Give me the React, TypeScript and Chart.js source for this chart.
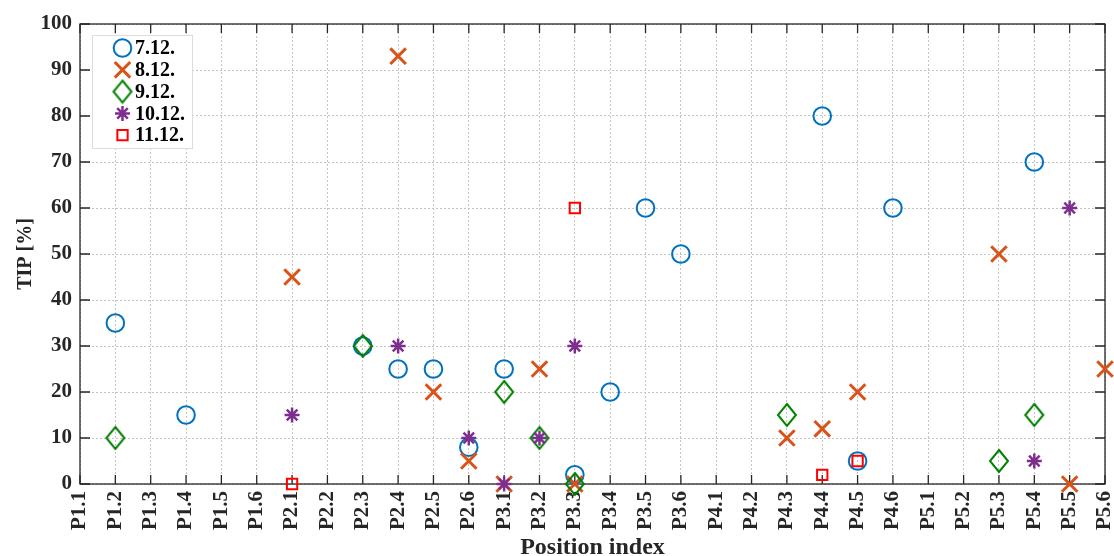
import { useEffect, useRef } from 'react';
import { Chart, registerables } from 'chart.js';

Chart.register(...registerables);

// Measurement positions along the x axis
const positions = [
  'P1.1', 'P1.2', 'P1.3', 'P1.4', 'P1.5', 'P1.6',
  'P2.1', 'P2.2', 'P2.3', 'P2.4', 'P2.5', 'P2.6',
  'P3.1', 'P3.2', 'P3.3', 'P3.4', 'P3.5', 'P3.6',
  'P4.1', 'P4.2', 'P4.3', 'P4.4', 'P4.5', 'P4.6',
  'P5.1', 'P5.2', 'P5.3', 'P5.4', 'P5.5', 'P5.6',
];

// TIP [%] per position and day (null = not measured)
const tip0712 = [null, 35, null, 15, null, null, null, null, 30, 25, 25, 8, 25, null, 2, 20, 60, 50, null, null, null, 80, 5, 60, null, null, null, 70, null, null];
const tip0812 = [null, null, null, null, null, null, 45, null, null, 93, 20, 5, 0, 25, 0, null, null, null, null, null, 10, 12, 20, null, null, null, 50, null, 0, 25];
const tip0912 = [null, 10, null, null, null, null, null, null, 30, null, null, null, 20, 10, 0, null, null, null, null, null, 15, null, null, null, null, null, 5, 15, null, null];
const tip1012 = [null, null, null, null, null, null, 15, null, null, 30, null, 10, 0, 10, 30, null, null, null, null, null, null, null, null, null, null, null, null, 5, 60, null];
const tip1112 = [null, null, null, null, null, null, 0, null, null, null, null, null, null, null, 60, null, null, null, null, null, null, 2, 5, null, null, null, null, null, null, null];

const dayLabels = ['7.12.', '8.12.', '9.12.', '10.12.', '11.12.'];
const yTicks = [0, 10, 20, 30, 40, 50, 60, 70, 80, 90, 100];

const AXIS_COLOR = '#262626';
const FONT_FAMILY = '"Liberation Serif", "Times New Roman", serif';
const COLORS = ['#0072BD', '#D95319', '#008000', '#7E2F8E', '#FF0000'];
const RIGHT_MARGIN = 9;

// Tall diamond marker rendered once to an offscreen canvas
function makeDiamond(color: string): HTMLCanvasElement {
  const hw = 9;
  const hh = 11;
  const c = document.createElement('canvas');
  c.width = hw * 2 + 4;
  c.height = hh * 2 + 4;
  const g = c.getContext('2d')!;
  const cx = c.width / 2;
  const cy = c.height / 2;
  g.strokeStyle = color;
  g.lineWidth = 2;
  g.beginPath();
  g.moveTo(cx, cy - hh);
  g.lineTo(cx + hw, cy);
  g.lineTo(cx, cy + hh);
  g.lineTo(cx - hw, cy);
  g.closePath();
  g.stroke();
  return c;
}

type MarkerKind = 'circle' | 'crossRot' | 'diamond' | 'star' | 'rect';
const markerKinds: MarkerKind[] = ['circle', 'crossRot', 'diamond', 'star', 'rect'];
const markerRadius = [8.8, 11, 0, 7.5, 7.3];
const markerWidth = [2, 3, 2, 2.5, 2];

function drawLegendMarker(ctx: CanvasRenderingContext2D, i: number, x: number, y: number, diamond: HTMLCanvasElement) {
  const kind = markerKinds[i];
  const r = markerRadius[i];
  ctx.save();
  ctx.strokeStyle = COLORS[i];
  ctx.lineWidth = markerWidth[i];
  ctx.beginPath();
  if (kind === 'circle') {
    ctx.arc(x, y, r, 0, Math.PI * 2);
  } else if (kind === 'crossRot') {
    const d = r * Math.SQRT1_2;
    ctx.moveTo(x - d, y - d); ctx.lineTo(x + d, y + d);
    ctx.moveTo(x - d, y + d); ctx.lineTo(x + d, y - d);
  } else if (kind === 'star') {
    const d = r * Math.SQRT1_2;
    ctx.moveTo(x - r, y); ctx.lineTo(x + r, y);
    ctx.moveTo(x, y - r); ctx.lineTo(x, y + r);
    ctx.moveTo(x - d, y - d); ctx.lineTo(x + d, y + d);
    ctx.moveTo(x - d, y + d); ctx.lineTo(x + d, y - d);
  } else if (kind === 'rect') {
    const s = r * Math.SQRT1_2;
    ctx.rect(x - s, y - s, 2 * s, 2 * s);
  } else {
    ctx.drawImage(diamond, x - diamond.width / 2, y - diamond.height / 2);
  }
  ctx.stroke();
  ctx.restore();
}

export default function App() {
  const canvasRef = useRef<HTMLCanvasElement | null>(null);

  useEffect(() => {
    const canvas = canvasRef.current;
    if (!canvas) return;
    const diamond = makeDiamond(COLORS[2]);
    const series = [tip0712, tip0812, tip0912, tip1012, tip1112];

    // Let the plot area reach close to the right edge (the last rotated
    // tick label would otherwise reserve extra room there)
    const plotAreaPlugin = {
      id: 'plotArea',
      afterLayout(chart: any) {
        const area = chart.chartArea;
        const xScale = chart.scales.x;
        const right = chart.width - RIGHT_MARGIN;
        area.right = right;
        area.width = right - area.left;
        xScale.right = right;
        xScale.width = right - xScale.left;
        xScale.configure();
        xScale._gridLineItems = null;
        xScale._labelItems = null;
      },
    };

    // Box with inward ticks on all four sides
    const framePlugin = {
      id: 'frame',
      beforeDatasetsDraw(chart: any) {
        const { ctx, chartArea, scales } = chart;
        const { left, right, top, bottom } = chartArea;
        ctx.save();
        ctx.setLineDash([]);
        ctx.strokeStyle = AXIS_COLOR;
        ctx.lineWidth = 1.3;
        ctx.beginPath();
        positions.forEach((_, i) => {
          const x = scales.x.getPixelForValue(i);
          ctx.moveTo(x, bottom); ctx.lineTo(x, bottom - 9);
          ctx.moveTo(x, top); ctx.lineTo(x, top + 9);
        });
        yTicks.forEach((v) => {
          const y = scales.y.getPixelForValue(v);
          ctx.moveTo(left, y); ctx.lineTo(left + 10, y);
          ctx.moveTo(right, y); ctx.lineTo(right - 10, y);
        });
        ctx.stroke();
        ctx.strokeRect(left, top, right - left, bottom - top);
        ctx.restore();
      },
    };

    // Legend box in the upper-left corner of the plot area
    const legendPlugin = {
      id: 'insetLegend',
      afterDatasetsDraw(chart: any) {
        const { ctx, chartArea } = chart;
        const bx = chartArea.left + 12;
        const by = chartArea.top + 11;
        const bw = 100;
        const bh = 113;
        ctx.save();
        ctx.fillStyle = '#ffffff';
        ctx.fillRect(bx, by, bw, bh);
        ctx.strokeStyle = '#dcdcdc';
        ctx.lineWidth = 1;
        ctx.strokeRect(bx + 0.5, by + 0.5, bw, bh);
        ctx.font = `bold 20px ${FONT_FAMILY}`;
        ctx.fillStyle = '#000000';
        ctx.textBaseline = 'middle';
        ctx.textAlign = 'left';
        dayLabels.forEach((label, i) => {
          const y = by + 13 + i * 21.8;
          drawLegendMarker(ctx, i, bx + 30.5, y, diamond);
          ctx.fillText(label, bx + 43, y + 1);
        });
        ctx.restore();
      },
    };

    const datasets = series.map((values, i) => ({
      label: dayLabels[i],
      data: values,
      showLine: false,
      order: 5 - i,
      clip: false as const,
      pointStyle: markerKinds[i] === 'diamond' ? diamond : markerKinds[i],
      pointRadius: markerKinds[i] === 'diamond' ? 10 : markerRadius[i],
      pointHoverRadius: markerKinds[i] === 'diamond' ? 10 : markerRadius[i],
      pointBorderWidth: markerWidth[i],
      pointBorderColor: COLORS[i],
      pointBackgroundColor: 'rgba(0,0,0,0)',
      borderColor: COLORS[i],
      backgroundColor: 'rgba(0,0,0,0)',
    }));

    const tickFont = { family: FONT_FAMILY, size: 21, weight: 'bold' as const };

    const chart = new Chart(canvas, {
      type: 'line',
      data: { labels: positions, datasets },
      plugins: [plotAreaPlugin, framePlugin, legendPlugin],
      options: {
        animation: false,
        responsive: false,
        devicePixelRatio: 1,
        layout: { padding: { left: 0, right: RIGHT_MARGIN, top: 24, bottom: 0 } },
        plugins: { legend: { display: false }, tooltip: { enabled: false } },
        scales: {
          x: {
            type: 'category',
            offset: false,
            grid: { color: '#c4c4c4', lineWidth: 1, drawTicks: false },
            border: { display: false, dash: [2, 2] },
            ticks: {
              autoSkip: false,
              minRotation: 90,
              maxRotation: 90,
              padding: 7,
              color: AXIS_COLOR,
              font: tickFont,
            },
            title: {
              display: true,
              text: 'Position index',
              color: AXIS_COLOR,
              font: { family: FONT_FAMILY, size: 24, weight: 'bold' as const, lineHeight: 1 },
              padding: { top: 0, bottom: -4 },
            },
            afterFit(scale: any) {
              scale.height = 72;
              scale.paddingLeft = 0;
              scale.paddingRight = 0;
            },
          },
          y: {
            min: 0,
            max: 100,
            grid: { color: '#c4c4c4', lineWidth: 1, drawTicks: false },
            border: { display: false, dash: [2, 2] },
            ticks: {
              stepSize: 10,
              padding: 8,
              color: AXIS_COLOR,
              font: tickFont,
            },
            title: {
              display: true,
              text: 'TIP [%]',
              color: AXIS_COLOR,
              font: { family: FONT_FAMILY, size: 20, weight: 'bold' as const, lineHeight: 1 },
              padding: { top: 16, bottom: 0 },
            },
            afterFit(scale: any) {
              scale.width = 80;
              scale.paddingTop = 0;
              scale.paddingBottom = 0;
            },
          },
        },
      },
    });

    return () => chart.destroy();
  }, []);

  return (
    <div style={{ position: 'fixed', left: 0, top: 0, width: 1114, height: 556, background: '#ffffff' }}>
      <canvas ref={canvasRef} width={1114} height={556} style={{ display: 'block' }} />
    </div>
  );
}
